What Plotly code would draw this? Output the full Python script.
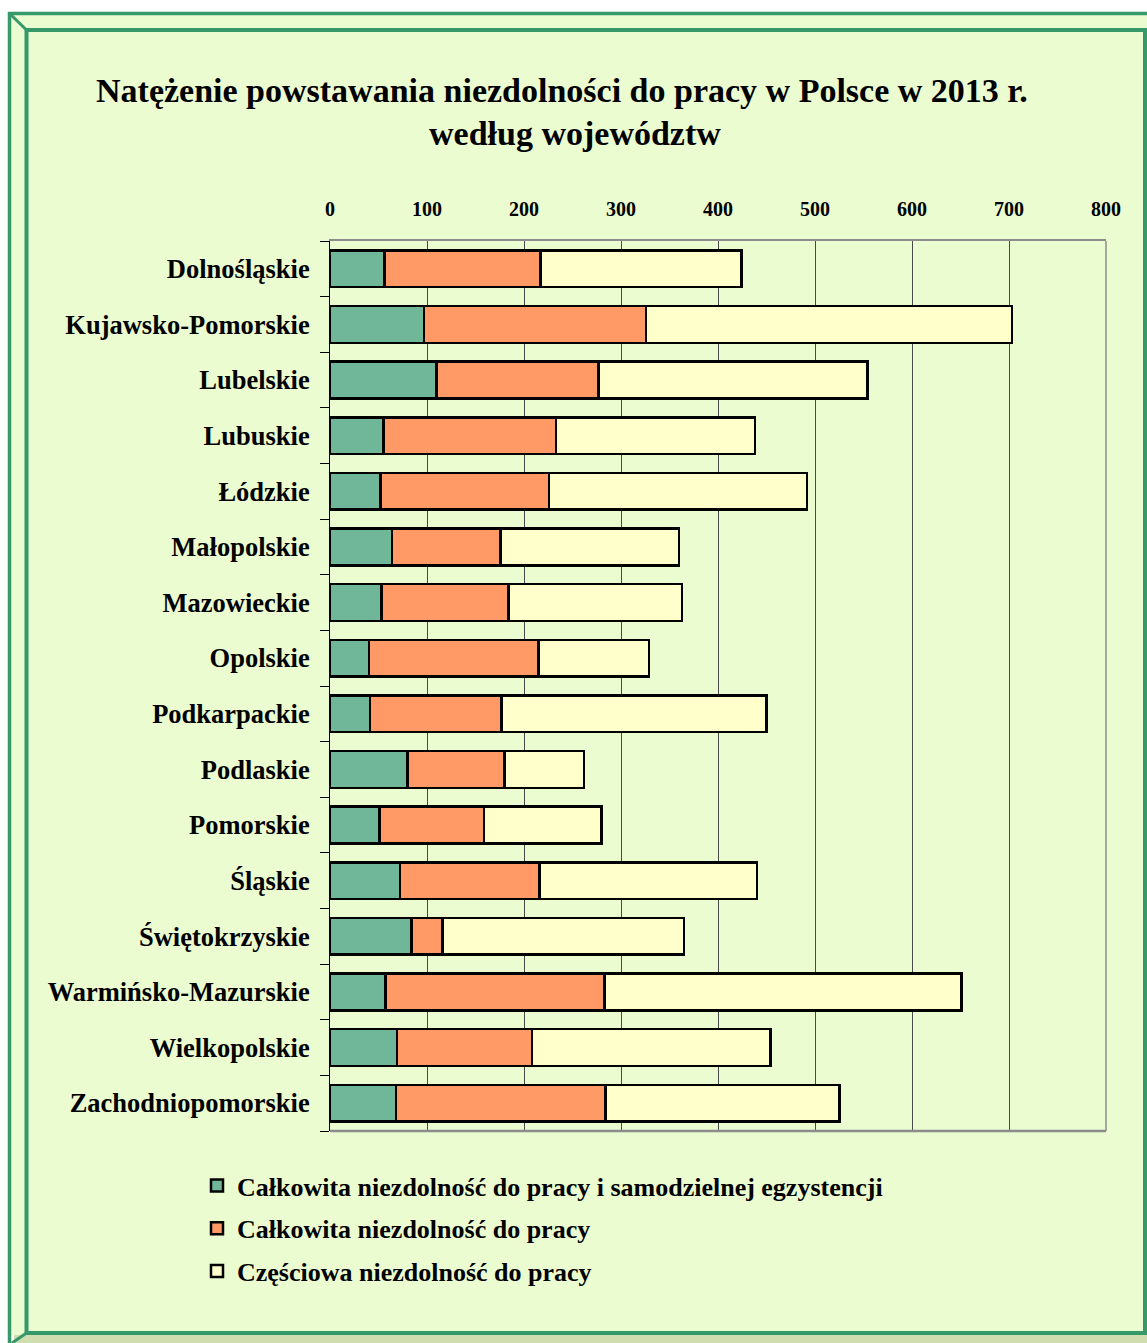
import plotly.graph_objects as go

regions = ["Dolnośląskie", "Kujawsko-Pomorskie", "Lubelskie", "Lubuskie", "Łódzkie",
           "Małopolskie", "Mazowieckie", "Opolskie", "Podkarpackie", "Podlaskie",
           "Pomorskie", "Śląskie", "Świętokrzyskie", "Warmińsko-Mazurskie",
           "Wielkopolskie", "Zachodniopomorskie"]
calk_egz = [56, 97, 110, 55, 52, 64, 53, 40, 41, 80, 51, 72, 84, 57, 69, 68]
calk = [161, 229, 167, 178, 174, 112, 131, 175, 136, 100, 108, 144, 32, 226, 139, 216]
czesc = [207, 377, 277, 205, 266, 184, 179, 114, 273, 82, 121, 224, 249, 368, 246, 241]

series_names = ["Całkowita niezdolność do pracy i samodzielnej egzystencji",
                "Całkowita niezdolność do pracy",
                "Częściowa niezdolność do pracy"]
x_ticks = [0, 100, 200, 300, 400, 500, 600, 700, 800]
title_lines = ["Natężenie powstawania niezdolności do pracy w Polsce w 2013 r.",
               "według województw"]

W, H = 1147, 1343
L, R, T, B = 330, 1106, 241, 1131
FONT = "Liberation Serif, Times New Roman, serif"


def px(x):
    return (x - L) / (R - L)


def py(y):
    return (B - y) / (B - T)


fig = go.Figure()
colors = ["#70B79A", "#FF9966", "#FFFFCC"]
for name, vals, col in zip(series_names, [calk_egz, calk, czesc], colors):
    fig.add_trace(go.Bar(
        y=regions, x=vals, name=name, orientation="h",
        marker=dict(color=col, line=dict(color="black", width=2.5)),
        legendgroup=name,
    ))

green = "#36996A"
shapes = [
    dict(type="rect", xref="paper", yref="paper", x0=px(9), x1=px(1147), y0=py(1335), y1=py(13),
         fillcolor="#EBFCD0", line=dict(width=0), layer="below"),
    dict(type="rect", xref="paper", yref="paper", x0=px(14), x1=px(1147), y0=py(1343), y1=py(1335),
         fillcolor="#CFDDAF", line=dict(width=0), layer="below"),
    dict(type="path", xref="paper", yref="paper",
         path=f"M {px(9.5)},{py(1343)} L {px(9.5)},{py(13.5)} L {px(1147)},{py(13.5)}",
         line=dict(color=green, width=3.5), layer="above"),
    dict(type="rect", xref="paper", yref="paper", x0=px(26.5), x1=px(1145), y0=py(1333), y1=py(30),
         line=dict(color=green, width=4), layer="above"),
    dict(type="line", xref="paper", yref="paper", x0=px(9.5), y0=py(13.5), x1=px(26.5), y1=py(30),
         line=dict(color=green, width=3), layer="above"),
    dict(type="line", xref="paper", yref="paper", x0=px(26.5), y0=py(1333), x1=px(12), y1=py(1343),
         line=dict(color=green, width=3), layer="above"),
    dict(type="line", xref="paper", yref="paper", x0=0, x1=1, y0=0, y1=0,
         line=dict(color="#8C8C8C", width=2.5), layer="above"),
    dict(type="line", xref="paper", yref="paper", x0=1, x1=1, y0=0, y1=1,
         line=dict(color="#8C8C8C", width=1.5), layer="above"),
]

annotations = [
    dict(text=f"<b>{title_lines[0]}</b>", xref="paper", yref="paper", x=px(562), y=py(90),
         xanchor="center", yanchor="middle", showarrow=False,
         font=dict(family=FONT, size=34, color="black")),
    dict(text=f"<b>{title_lines[1]}</b>", xref="paper", yref="paper", x=px(575), y=py(133),
         xanchor="center", yanchor="middle", showarrow=False,
         font=dict(family=FONT, size=34, color="black")),
]

fig.update_layout(
    width=W, height=H, autosize=False,
    margin=dict(l=L, r=W - R, t=T, b=H - B, pad=0),
    barmode="stack", bargap=0.34,
    paper_bgcolor="white", plot_bgcolor="rgba(0,0,0,0)",
    shapes=shapes, annotations=annotations,
    font=dict(family=FONT, color="black"),
    xaxis=dict(side="top", range=[0, 800], tickvals=x_ticks, ticktext=[str(v) for v in x_ticks],
               showgrid=True, gridcolor="#4A4A4A", gridwidth=1, zeroline=False,
               showline=True, linecolor="#8C8C8C", linewidth=2,
               ticks="", ticklabelstandoff=15,
               tickfont=dict(family=FONT, size=20, color="black", weight="bold")),
    yaxis=dict(categoryorder="array", categoryarray=regions[::-1],
               showgrid=False, zeroline=False, showline=True, linecolor="black", linewidth=1,
               ticks="outside", tickson="boundaries", ticklen=9, tickcolor="black",
               ticklabelstandoff=14,
               tickfont=dict(family=FONT, size=26.5, color="black", weight="bold")),
    legend=dict(x=px(197), y=py(1162), xanchor="left", yanchor="top",
                orientation="v", traceorder="grouped", tracegroupgap=6,
                bgcolor="rgba(0,0,0,0)",
                font=dict(family=FONT, size=26, color="black", weight="bold")),
    showlegend=True,
)

fig.write_html("out.html", config={"displayModeBar": False},
               post_script="document.body.style.margin='0px';")
